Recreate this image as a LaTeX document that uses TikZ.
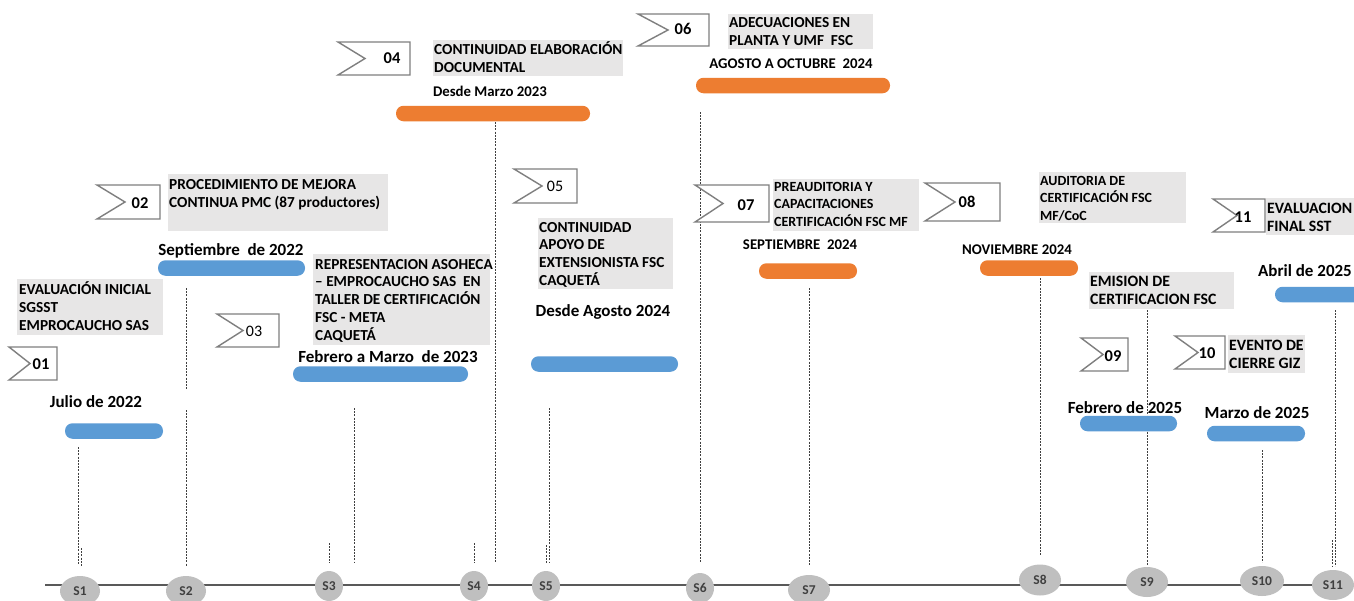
\documentclass[tikz,border=0pt]{standalone}
\usepackage{fontspec}
\setmainfont{Carlito}
\usetikzlibrary{shapes.geometric}
\definecolor{barblue}{HTML}{5B9BD5}
\definecolor{barorange}{HTML}{ED7D31}
\definecolor{boxgray}{HTML}{E7E6E6}
\definecolor{milegray}{HTML}{BFBFBF}
\definecolor{axisgray}{HTML}{595959}
\definecolor{flaggray}{HTML}{7F7F7F}
\definecolor{linegray}{HTML}{404040}
\definecolor{miletext}{HTML}{404040}
\tikzset{
  axisline/.style={draw=axisgray, line width=1.8pt},
  mile/.style={ellipse, fill=milegray, inner sep=0pt, font=\fontsize{13.5}{13.5}\selectfont\bfseries, text=miletext},
  bar/.style={rounded corners=7.5pt, minimum height=15.5pt, inner sep=0pt},
  bluebar/.style={bar, fill=barblue},
  orangebar/.style={bar, fill=barorange},
  tbox/.style={fill=boxgray, inner sep=0pt, anchor=north west},
  ttext/.style={anchor=base west, inner sep=0pt, align=left, font=\fontsize{15.3}{18.3}\selectfont\bfseries},
  stext/.style={ttext, font=\fontsize{14}{17.5}\selectfont\bfseries},
  btext/.style={ttext, font=\fontsize{15.8}{18.5}\selectfont\bfseries},
  datelab/.style={anchor=base, inner sep=0pt, font=\fontsize{17}{17}\selectfont\bfseries},
  sdate/.style={anchor=base, inner sep=0pt, font=\fontsize{14.8}{15}\selectfont\bfseries},
  flagshape/.style={draw=flaggray, line width=1.4pt, fill=white, line join=miter},
  num/.style={inner sep=0pt, font=\fontsize{16.5}{16.5}\selectfont\bfseries},
  numr/.style={inner sep=0pt, font=\fontsize{16}{16}\selectfont},
  vline/.style={draw=linegray, line width=0.6pt, dash pattern=on 2pt off 1.2pt},
}
\newcommand{\flagat}[5]{% x1 y1 x2 y2 notch-x
  \draw[flagshape] (#1,#2) -- (#3,#2) -- (#3,#4) -- (#1,#4) -- (#5,{(#2+#4)/2}) -- cycle;}
\begin{document}
\begin{tikzpicture}[x=1pt, y=-1pt]
\useasboundingbox (0,0) rectangle (1354,600);
\clip (0,0) rectangle (1354,600);
\fill[white] (0,0) rectangle (1354,600);

% axis
\coordinate (axL) at (45,585);
\coordinate (axR) at (1360,585);
\draw[axisline] (axL) -- (axR);

% milestones
\node[mile, minimum width=40, minimum height=30] (s1) at (80,591) {S1};
\node[mile, minimum width=40, minimum height=30] (s2) at (186,591) {S2};
\node[mile, minimum width=28, minimum height=30] (s3) at (329,586) {S3};
\node[mile, minimum width=28, minimum height=30] (s4) at (474,586) {S4};
\node[mile, minimum width=28, minimum height=30] (s5) at (546,586) {S5};
\node[mile, minimum width=28, minimum height=30] (s6) at (700,588) {S6};
\node[mile, minimum width=42, minimum height=30] (s7) at (809,590) {S7};
\node[mile, minimum width=42, minimum height=31] (s8) at (1040,580) {S8};
\node[mile, minimum width=42, minimum height=30] (s9) at (1147,582) {S9};
\node[mile, minimum width=44, minimum height=30] (s10) at (1262,581) {S10};
\node[mile, minimum width=42, minimum height=30] (s11) at (1333,585) {S11};

% vertical dotted lines
\draw[vline] (78,447) -- (78,565);
\draw[vline] (81,548) -- (81,566);
\draw[vline] (186,288) -- (186,390);
\draw[vline] (186,410) -- (186,566);
\draw[vline] (329,543) -- (329,563);
\draw[vline] (354,408) -- (354,563);
\draw[vline] (474,543) -- (474,563);
\draw[vline] (495,122) -- (495,563);
\draw[vline] (549,408) -- (549,563);
\draw[vline] (546,545) -- (546,563);
\draw[vline] (700,112) -- (700,563);
\draw[vline] (809,288) -- (809,566);
\draw[vline] (1040,278) -- (1040,555);
\draw[vline] (1147,310) -- (1147,565);
\draw[vline] (1262,450) -- (1262,562);
\draw[vline] (1335,310) -- (1335,566);
\draw[vline] (1332,540) -- (1332,566);

% bars
\node[bluebar, minimum width=98] (b1) at (114,431) {};
\node[bluebar, minimum width=147] (b2) at (231.5,268) {};
\node[bluebar, minimum width=175] (b3) at (380.5,374) {};
\node[orangebar, minimum width=194] (b4) at (493,113.5) {};
\node[bluebar, minimum width=147] (b5) at (604.5,364) {};
\node[orangebar, minimum width=194] (b6) at (793,85.5) {};
\node[orangebar, minimum width=98] (b7) at (808,271) {};
\node[orangebar, minimum width=98] (b8) at (1029,268) {};
\node[bluebar, minimum width=97] (b9) at (1128.5,423.5) {};
\node[bluebar, minimum width=98] (b10) at (1256,433.5) {};
\node[bluebar, minimum width=110] (b11) at (1330,294.5) {};

% gray boxes
\node[tbox, minimum width=146, minimum height=56] (t1) at (17,279) {};
\node[tbox, minimum width=220, minimum height=57] (t2) at (168,174) {};
\node[tbox, minimum width=177, minimum height=91] (t3) at (313,254) {};
\node[tbox, minimum width=190, minimum height=36] (t4) at (433,40) {};
\node[tbox, minimum width=135, minimum height=71] (t5) at (538,218) {};
\node[tbox, minimum width=145, minimum height=35] (t6) at (728,14) {};
\node[tbox, minimum width=146, minimum height=52] (t7) at (773,179) {};
\node[tbox, minimum width=147, minimum height=51] (t8) at (1039,172) {};
\node[tbox, minimum width=145, minimum height=37] (t9) at (1089,272) {};
\node[tbox, minimum width=77, minimum height=38] (t10) at (1228,335) {};
\node[tbox, minimum width=90, minimum height=37] (t11) at (1266,198) {};

% box texts (anchor = baseline of last line)
\node[ttext] (x1) at (19,330.6) {EVALUACIÓN INICIAL\\SGSST\\EMPROCAUCHO SAS};
\node[ttext] (x2) at (169,207.3) {PROCEDIMIENTO DE MEJORA\\CONTINUA PMC (87 productores)};
\node[ttext, font=\fontsize{15.3}{17.8}\selectfont\bfseries] (x3) at (315,340.2) {REPRESENTACION ASOHECA\\– EMPROCAUCHO SAS~ EN\\TALLER DE CERTIFICACIÓN\\FSC - META\\CAQUETÁ};
\node[ttext] (x4) at (434,72.3) {CONTINUIDAD ELABORACIÓN\\DOCUMENTAL};
\node[ttext, font=\fontsize{15.3}{17.7}\selectfont\bfseries] (x5) at (539,285.1) {CONTINUIDAD\\APOYO DE\\EXTENSIONISTA FSC\\CAQUETÁ};
\node[ttext] (x6) at (729,45.3) {ADECUACIONES EN\\PLANTA Y UMF~ FSC};
\node[stext] (x7) at (774,226) {PREAUDITORIA Y\\CAPACITACIONES\\CERTIFICACIÓN FSC MF};
\node[stext] (x8) at (1040,220) {AUDITORIA DE\\CERTIFICACIÓN FSC\\MF/CoC};
\node[btext] (x9) at (1090,304.5) {EMISION DE\\CERTIFICACION FSC};
\node[btext] (x10) at (1229,368.5) {EVENTO DE\\CIERRE GIZ};
\node[btext] (x11) at (1267,231.5) {EVALUACION\\FINAL SST};

% flags
\flagat{9}{347}{57}{380}{30}
\node[num] (f1) at (41,364) {01};
\flagat{97}{185}{160}{219}{125}
\node[num] (f2) at (140,203) {02};
\flagat{217}{314}{279}{347}{243}
\node[numr] (f3) at (254,331) {03};
\flagat{338}{42}{410}{75}{365}
\node[num] (f4) at (392,58) {04};
\flagat{514}{169}{577}{203}{542}
\node[numr] (f5) at (555,186) {05};
\flagat{638}{14}{709}{46}{668}
\node[num] (f6) at (683,29) {06};
\flagat{695}{185}{769}{222}{723}
\node[num] (f7) at (746,205) {07};
\flagat{925}{183}{1000}{221}{955}
\node[num] (f8) at (967,202) {08};
\flagat{1081}{338}{1128}{371}{1103}
\node[num] (f9) at (1113,356) {09};
\flagat{1175}{336}{1225}{369}{1198}
\node[num] (f10) at (1207,353) {10};
\flagat{1213}{199}{1265}{232}{1237}
\node[num] (f11) at (1243,217) {11};

% dates
\node[datelab] (d1) at (96,407) {Julio de 2022};
\node[datelab] (d2) at (231,255) {Septiembre~ de 2022};
\node[datelab] (d3) at (388,362) {Febrero a Marzo~ de 2023};
\node[sdate] (d4) at (490,96) {Desde Marzo 2023};
\node[datelab] (d5) at (603,316) {Desde Agosto 2024};
\node[sdate] (d6) at (791,68) {AGOSTO A OCTUBRE~ 2024};
\node[sdate] (d7) at (800,249) {SEPTIEMBRE~ 2024};
\node[sdate] (d8) at (1017,254) {NOVIEMBRE 2024};
\node[datelab] (d9) at (1125,413) {Febrero de 2025};
\node[datelab] (d10) at (1257,418) {Marzo de 2025};
\node[datelab] (d11) at (1305,276) {Abril de 2025};
\end{tikzpicture}
\end{document}
